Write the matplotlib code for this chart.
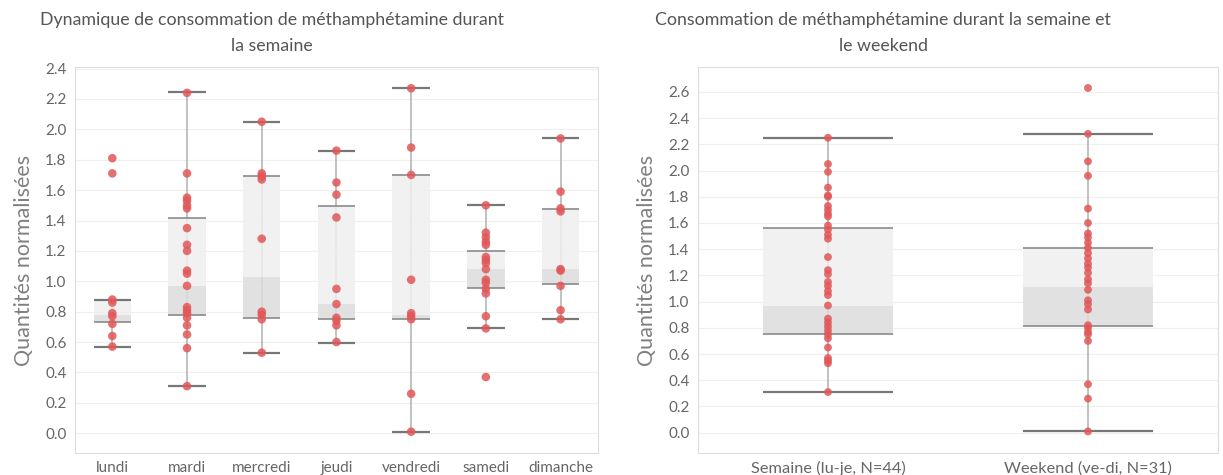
import matplotlib.pyplot as plt

plt.rcParams['font.family'] = ['Lato', 'DejaVu Sans']

# --- donnees : graphique de gauche (par jour) ---
jours = ["lundi", "mardi", "mercredi", "jeudi", "vendredi", "samedi", "dimanche"]
lundi = [1.81, 1.71, 0.88, 0.86, 0.79, 0.77, 0.72, 0.64, 0.57]
mardi = [2.24, 1.71, 1.55, 1.53, 1.50, 1.48, 1.35, 1.24, 1.20, 1.07, 1.05,
         0.97, 0.83, 0.81, 0.79, 0.76, 0.71, 0.65, 0.56, 0.31]
mercredi = [2.05, 1.71, 1.69, 1.67, 1.28, 0.80, 0.78, 0.75, 0.53]
jeudi = [1.86, 1.65, 1.57, 1.42, 0.95, 0.85, 0.76, 0.74, 0.71, 0.60]
vendredi = [2.27, 1.88, 1.70, 1.01, 0.79, 0.77, 0.75, 0.26, 0.01]
samedi = [1.50, 1.32, 1.29, 1.26, 1.24, 1.16, 1.14, 1.12, 1.08, 1.01, 0.99,
          0.95, 0.92, 0.77, 0.69, 0.37]
dimanche = [1.94, 1.59, 1.48, 1.46, 1.08, 1.07, 0.97, 0.81, 0.75]
valeurs_jours = [lundi, mardi, mercredi, jeudi, vendredi, samedi, dimanche]

# statistiques des boites
q1_jours = [0.73, 0.775, 0.76, 0.75, 0.75, 0.955, 0.98]
med_jours = [0.78, 0.97, 1.03, 0.85, 0.775, 1.08, 1.08]
q3_jours = [0.88, 1.415, 1.69, 1.495, 1.70, 1.20, 1.475]
bas_jours = [0.57, 0.31, 0.53, 0.595, 0.01, 0.69, 0.755]
haut_jours = [0.88, 2.245, 2.05, 1.86, 2.27, 1.50, 1.945]

# --- donnees : graphique de droite (semaine / weekend) ---
periodes = ["Semaine (lu-je, N=44)", "Weekend (ve-di, N=31)"]
semaine = [2.25, 2.05, 1.99, 1.87, 1.81, 1.80, 1.73, 1.70, 1.67, 1.65, 1.58,
           1.55, 1.51, 1.48, 1.34, 1.24, 1.21, 1.15, 1.12, 1.08, 1.05, 0.97,
           0.87, 0.84, 0.81, 0.78, 0.75, 0.72, 0.65, 0.57, 0.55, 0.53, 0.31]
weekend = [2.63, 2.28, 2.07, 1.96, 1.71, 1.60, 1.52, 1.49, 1.45, 1.41, 1.37,
           1.33, 1.29, 1.26, 1.22, 1.17, 1.14, 1.09, 1.01, 0.98, 0.94, 0.82,
           0.80, 0.77, 0.75, 0.70, 0.37, 0.26, 0.01]
valeurs_periodes = [semaine, weekend]

q1_per = [0.755, 0.815]
med_per = [0.97, 1.11]
q3_per = [1.565, 1.41]
bas_per = [0.31, 0.01]
haut_per = [2.25, 2.28]

GRIS_TXT = "#666666"
ROUGE = "#e15759"


def boites(ax, noms, valeurs, q1, med, q3, bas, haut, taille, taille_x):
    x = list(range(len(noms)))
    larg = 0.5
    gauche = [i - larg / 2 for i in x]
    droite = [i + larg / 2 for i in x]
    ax.vlines(x, bas, haut, color="#b0b0b0", lw=1.1, zorder=1)
    ax.bar(x, [m - a for a, m in zip(q1, med)], bottom=q1, width=larg,
           color="#dcdcdc", alpha=0.85, zorder=2)
    ax.bar(x, [b - m for m, b in zip(med, q3)], bottom=med, width=larg,
           color="#efefef", alpha=0.85, zorder=2)
    ax.hlines(q1, gauche, droite, color="#8a8a8a", lw=1.2, zorder=3)
    ax.hlines(q3, gauche, droite, color="#8a8a8a", lw=1.2, zorder=3)
    ax.hlines(bas, gauche, droite, color="#777777", lw=1.6, zorder=3)
    ax.hlines(haut, gauche, droite, color="#777777", lw=1.6, zorder=3)
    for i, v in enumerate(valeurs):
        ax.scatter([i] * len(v), v, s=taille, color=ROUGE, alpha=0.85,
                   edgecolors="none", zorder=4)
    ax.set_xticks(x)
    ax.set_xticklabels(noms, fontsize=taille_x, color=GRIS_TXT)
    ax.set_xlim(-0.5, len(noms) - 0.5)
    ax.set_ylabel("Quantités normalisées", fontsize=15.5, color="#808080",
                  labelpad=8)
    ax.grid(axis="y", color="#f0f0f0", lw=0.9)
    ax.set_axisbelow(True)
    ax.tick_params(axis="y", length=0, labelsize=11, labelcolor=GRIS_TXT, pad=6)
    ax.tick_params(axis="x", length=0, pad=6)
    for s in ax.spines.values():
        s.set_color("#dddddd")


fig = plt.figure(figsize=(12.23, 4.75), dpi=100)
ax1 = fig.add_axes([0.0613, 0.0463, 0.4276, 0.8126])
ax2 = fig.add_axes([0.5707, 0.0463, 0.4252, 0.8126])

boites(ax1, jours, valeurs_jours, q1_jours, med_jours, q3_jours,
       bas_jours, haut_jours, 38, 11)
ax1.set_ylim(-0.13, 2.41)
ax1.set_yticks([i / 5 for i in range(13)])
ax1.set_yticklabels([f"{i / 5:.1f}" for i in range(13)])

boites(ax2, periodes, valeurs_periodes, q1_per, med_per, q3_per,
       bas_per, haut_per, 32, 11.8)
ax2.set_ylim(-0.155, 2.79)
ax2.set_yticks([i / 5 for i in range(14)])
ax2.set_yticklabels([f"{i / 5:.1f}" for i in range(14)])

fig.text(0.222, 0.93, "Dynamique de consommation de méthamphétamine durant\nla semaine",
         ha="center", va="center", fontsize=12.8, color="#555555", linespacing=1.75)
fig.text(0.722, 0.93, "Consommation de méthamphétamine durant la semaine et\nle weekend",
         ha="center", va="center", fontsize=12.8, color="#555555", linespacing=1.75)

fig.savefig("out.png", dpi=100)
